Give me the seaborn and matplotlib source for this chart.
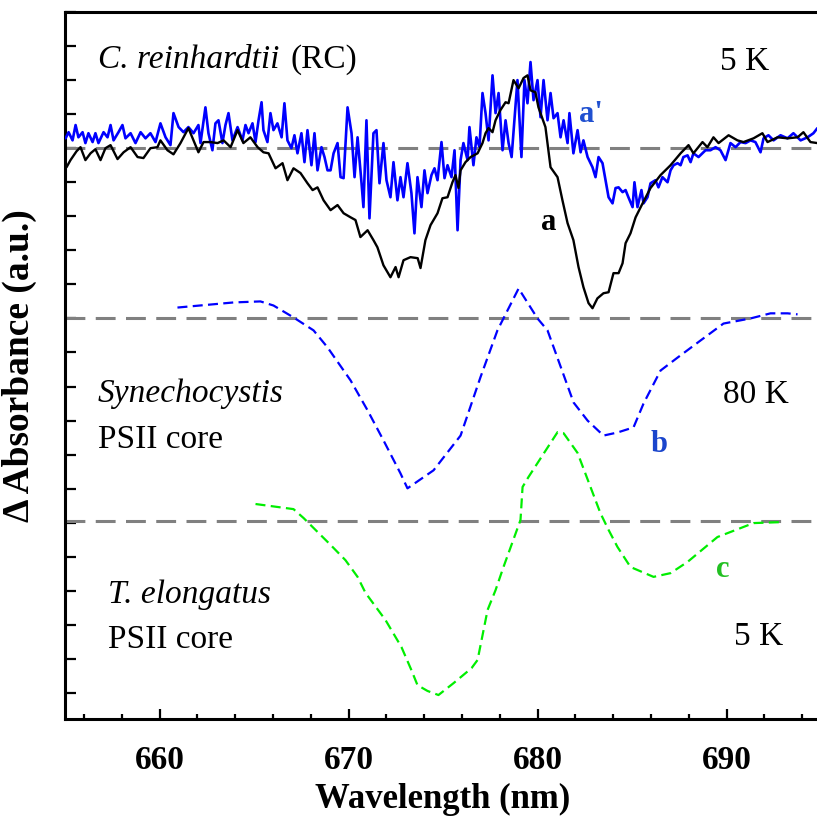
import numpy as np
import pandas as pd
import seaborn as sns
import matplotlib
matplotlib.use("Agg")
import matplotlib.pyplot as plt
from matplotlib.ticker import MultipleLocator

# ---------------- data ----------------
# trace a (black, C. reinhardtii RC, 5 K), dA relative to its baseline
wl_a = [655.08, 655.29, 655.61, 655.82, 656.08, 656.35, 656.61, 656.88, 657.14, 657.41,
        657.78, 658.10, 658.47, 658.84, 659.15, 659.52, 659.89, 660.05, 660.42, 660.74,
        661.11, 661.53, 661.80, 662.06, 662.33, 662.70, 663.07, 663.39, 663.76, 664.13,
        664.44, 664.81, 665.19, 665.50, 665.77, 666.14, 666.51, 666.77, 667.09, 667.46,
        667.83, 668.10, 668.36, 668.68, 669.05, 669.42, 669.74, 670.11, 670.37, 670.63,
        671.01, 671.32, 671.53, 671.85, 672.22, 672.49, 672.65, 672.91, 673.28, 673.66,
        673.81, 674.07, 674.34, 674.71, 674.97, 675.24, 675.50, 675.66, 675.82, 675.93,
        676.19, 676.46, 676.83, 677.09, 677.25, 677.41, 677.62, 677.78, 678.04, 678.31,
        678.47, 678.73, 679.00, 679.26, 679.47, 679.63, 679.89, 680.05, 680.42, 680.69,
        681.06, 681.32, 681.59, 681.90, 682.17, 682.43, 682.70, 682.91, 683.17, 683.49,
        683.76, 684.02, 684.29, 684.50, 684.66, 684.92, 685.19, 685.56, 685.98, 686.51,
        687.04, 687.57, 687.99, 688.25, 688.73, 688.99, 689.31, 689.58, 690.11, 690.58,
        690.90, 691.43, 691.90, 692.17, 692.70, 693.23, 693.76, 694.07, 694.44, 694.81]
dA_a = [-0.56, -0.35, -0.09, 0.03, -0.35, -0.15, -0.03, -0.35, 0.00, 0.09,
        -0.32, -0.12, 0.03, -0.26, -0.29, 0.00, 0.03, 0.23, -0.06, -0.18,
        0.15, 0.59, 0.23, -0.12, 0.18, 0.18, 0.15, 0.23, 0.03, 0.53,
        0.15, 0.32, 0.03, -0.12, -0.15, -0.59, -0.44, -0.94, -0.59, -0.73,
        -1.03, -1.23, -1.15, -1.53, -1.82, -1.67, -1.91, -2.03, -2.11, -2.61,
        -2.41, -2.70, -2.91, -3.44, -3.79, -3.49, -3.79, -3.29, -3.20, -3.23,
        -3.52, -2.70, -2.26, -1.91, -1.47, -1.44, -1.00, -0.79, -1.17, -0.65,
        -0.41, -0.26, -0.15, 0.15, 0.44, 0.59, 0.47, 0.82, 1.12, 1.35,
        1.32, 2.00, 1.76, 2.06, 2.14, 1.70, 1.64, 1.20, 0.62, -0.56,
        -0.85, -1.53, -2.20, -2.70, -3.49, -4.08, -4.55, -4.70, -4.41, -4.26,
        -4.23, -3.67, -3.67, -3.38, -2.79, -2.50, -2.03, -1.62, -1.17, -0.79,
        -0.50, -0.15, 0.09, -0.15, 0.18, 0.03, 0.32, 0.15, 0.38, 0.23,
        0.18, 0.29, 0.44, 0.18, 0.32, 0.29, 0.32, 0.47, 0.18, 0.15]

# trace a' (blue, noisy)
wl_ap = [655.03, 655.19, 655.40, 655.56, 655.71, 655.93, 656.08, 656.24, 656.46, 656.61,
         656.77, 657.04, 657.25, 657.41, 657.57, 657.83, 658.04, 658.20, 658.47, 658.73,
         659.00, 659.26, 659.52, 659.79, 660.05, 660.32, 660.58, 660.74, 661.01, 661.27,
         661.53, 661.80, 662.06, 662.17, 662.43, 662.59, 662.80, 662.96, 663.12, 663.33,
         663.49, 663.65, 663.86, 664.13, 664.39, 664.55, 664.71, 664.92, 665.08, 665.24,
         665.40, 665.50, 665.71, 665.87, 666.03, 666.24, 666.46, 666.61, 666.77, 666.98,
         667.14, 667.30, 667.51, 667.67, 667.83, 668.04, 668.20, 668.36, 668.57, 668.73,
         668.89, 669.05, 669.21, 669.42, 669.58, 669.74, 669.95, 670.16, 670.32, 670.48,
         670.69, 670.79, 670.95, 671.11, 671.32, 671.48, 671.64, 671.85, 672.01, 672.22,
         672.38, 672.59, 672.75, 672.91, 673.12, 673.33, 673.49, 673.65, 673.86, 674.02,
         674.18, 674.39, 674.55, 674.71, 674.92, 675.08, 675.24, 675.45, 675.61, 675.77,
         675.93, 676.08, 676.30, 676.40, 676.61, 676.77, 676.93, 677.09, 677.25, 677.41,
         677.62, 677.78, 677.94, 678.15, 678.31, 678.47, 678.63, 678.78, 678.94, 679.15,
         679.31, 679.47, 679.63, 679.79, 680.00, 680.16, 680.32, 680.53, 680.69, 680.85,
         681.06, 681.22, 681.38, 681.59, 681.69, 681.90, 682.12, 682.28, 682.43, 682.65,
         682.91, 683.07, 683.23, 683.44, 683.60, 683.76, 683.97, 684.13, 684.29, 684.50,
         684.66, 684.81, 685.03, 685.13, 685.29, 685.50, 685.61, 685.82, 685.98, 686.24,
         686.40, 686.61, 686.88, 687.04, 687.20, 687.41, 687.57, 687.72, 687.94, 688.10,
         688.25, 688.52, 688.89, 689.15, 689.42, 689.68, 689.95, 690.21, 690.48, 690.74,
         691.01, 691.27, 691.53, 691.80, 691.96, 692.22, 692.49, 692.86, 693.23, 693.54,
         693.92, 694.29, 694.60, 694.81]
dA_ap = [0.29, 0.47, 0.23, 0.68, 0.32, 0.47, 0.15, 0.44, 0.18, 0.44,
         0.15, 0.47, 0.32, 0.68, 0.23, 0.47, 0.68, 0.29, 0.44, 0.15,
         0.47, 0.29, 0.44, 0.18, 0.73, 0.32, 0.09, 1.03, 0.62, 0.47,
         0.62, 0.44, 0.68, 0.15, 1.20, 0.44, -0.06, 0.73, 0.82, 0.15,
         0.68, 1.03, 0.23, 0.62, 0.23, 0.68, 0.44, 0.73, 0.18, 0.82,
         1.35, 0.53, 0.18, 1.03, 0.53, 0.73, 0.32, 1.32, 0.23, 0.00,
         0.38, -0.15, 0.44, -0.41, 0.53, -0.50, 0.44, -0.65, 0.03, -0.26,
         -0.65, -0.65, -0.15, 0.15, -0.85, -0.88, 1.20, 0.44, -0.85, 0.32,
         -1.03, -1.73, 0.82, -2.06, 0.44, 0.53, -1.03, 0.15, -0.94, -1.44,
         -0.41, -1.53, -0.85, -1.44, -0.44, -1.32, -2.50, -0.85, -1.73, -0.65,
         -1.32, -0.79, -0.59, -0.94, 0.18, -0.88, -0.50, -0.85, -0.06, -2.41,
         -0.35, 0.15, -0.35, 0.62, -0.50, 0.32, 0.03, 1.62, 1.03, 0.23,
         2.14, 1.03, 1.62, -0.06, 0.82, 0.15, -0.26, 0.82, 2.00, -0.26,
         2.00, 1.32, 2.53, 1.41, 2.00, 0.91, 2.00, 0.82, 1.62, 0.88,
         1.03, 0.32, 0.82, 0.15, 1.03, -0.15, 0.53, -0.12, 0.23, -0.26,
         -0.56, -0.85, -0.26, -0.44, -0.94, -1.44, -1.62, -1.17, -1.15, -1.29,
         -1.23, -1.44, -1.73, -1.00, -1.73, -1.23, -1.62, -1.44, -1.03, -0.94,
         -1.15, -0.85, -1.00, -0.65, -0.50, -0.44, -0.50, -0.26, -0.21, -0.41,
         -0.15, -0.26, -0.06, -0.06, 0.03, -0.06, -0.35, 0.15, 0.03, 0.18,
         0.15, 0.23, 0.18, -0.12, 0.29, 0.38, 0.23, 0.38, 0.29, 0.44,
         0.23, 0.32, 0.44, 0.59]

# trace b (blue dashed, Synechocystis PSII core, 80 K)
wl_b = [660.95, 663.92, 665.34, 666.03, 667.09, 668.15, 668.89, 670.11, 671.01, 671.85,
        672.75, 673.12, 674.50, 675.93, 676.98, 677.88, 679.00, 680.00, 680.53, 681.91,
        682.65, 683.49, 684.23, 685.08, 685.61, 686.51, 687.41, 688.62, 689.84, 691.27,
        692.33, 693.23, 693.76]
dA_b = [0.32, 0.47, 0.50, 0.38, 0.03, -0.35, -0.85, -1.82, -2.70, -3.58,
        -4.55, -4.99, -4.46, -3.44, -1.73, -0.35, 0.88, 0.00, -0.35, -2.47,
        -3.00, -3.44, -3.35, -3.20, -2.50, -1.53, -1.15, -0.65, -0.15, 0.00,
        0.15, 0.15, 0.12]

# trace c (green dashed, T. elongatus PSII core, 5 K)
wl_c = [665.08, 667.09, 667.62, 669.05, 669.84, 670.48, 670.90, 671.96, 672.80, 673.33,
        673.65, 674.18, 674.76, 675.56, 676.51, 676.83, 677.36, 677.78, 678.20, 679.10,
        679.21, 679.52, 681.06, 681.38, 682.12, 683.33, 683.76, 684.23, 684.92, 686.14,
        687.04, 687.94, 689.52, 691.43, 692.96]
dA_c = [0.50, 0.35, 0.09, -0.70, -1.15, -1.64, -2.11, -2.91, -3.70, -4.38,
        -4.82, -4.99, -5.11, -4.76, -4.32, -4.08, -2.61, -2.03, -1.35, 0.03,
        1.00, 1.29, 2.61, 2.58, 2.00, 0.23, -0.26, -0.76, -1.35, -1.64,
        -1.53, -1.20, -0.47, -0.06, -0.03]

# vertical offsets (baselines) of the stacked traces
offset_a = 16.0
offset_b = 11.0
offset_c = 5.05

x_ticks = [660, 670, 680, 690]

# ---------------- figure ----------------
sns.set_style("ticks")
plt.rcParams["font.family"] = ["Liberation Serif", "DejaVu Serif"]
for key in ("text.color", "axes.labelcolor", "xtick.color", "ytick.color",
            "axes.edgecolor"):
    plt.rcParams[key] = "black"

fig = plt.figure(figsize=(8.17, 8.16), dpi=100)
ax = fig.add_axes([65 / 817, 97 / 816, 756 / 817, 707 / 816])

df_a = pd.DataFrame({"wl": wl_a, "y": np.array(dA_a) + offset_a})
df_ap = pd.DataFrame({"wl": wl_ap, "y": np.array(dA_ap) + offset_a})
df_b = pd.DataFrame({"wl": wl_b, "y": np.array(dA_b) + offset_b})
df_c = pd.DataFrame({"wl": wl_c, "y": np.array(dA_c) + offset_c})

gray = "#808080"
for off in (offset_a, offset_b, offset_c):
    ax.axhline(off, color=gray, lw=2.2, dashes=(6.5, 3.4), zorder=1)

sns.lineplot(data=df_ap, x="wl", y="y", ax=ax, color="#0000ff", lw=1.9,
             estimator=None, sort=False, zorder=3)
sns.lineplot(data=df_a, x="wl", y="y", ax=ax, color="black", lw=1.7,
             estimator=None, sort=False, zorder=4)
sns.lineplot(data=df_b, x="wl", y="y", ax=ax, color="#0000ff", lw=1.6,
             estimator=None, sort=False, zorder=3)
sns.lineplot(data=df_c, x="wl", y="y", ax=ax, color="#00ee00", lw=1.6,
             estimator=None, sort=False, zorder=3)
ax.lines[-2].set_dashes((4.5, 2.4))
ax.lines[-1].set_dashes((4.5, 2.4))

ax.set_xlim(655, 695)
ax.set_ylim(-0.764, 20.0)

ax.xaxis.set_minor_locator(MultipleLocator(2))
ax.yaxis.set_major_locator(MultipleLocator(1))
ax.set_xticks(x_ticks)
ax.tick_params(axis="x", which="major", direction="in", length=7.5, width=1.6,
               labelsize=24, pad=19, colors="black")
ax.tick_params(axis="x", which="minor", direction="in", length=3.8, width=1.6,
               colors="black")
ax.tick_params(axis="y", which="major", direction="in", length=8, width=1.6,
               labelleft=False, colors="black")
for lab in ax.get_xticklabels():
    lab.set_fontweight("bold")

for side in ("left", "bottom", "top"):
    ax.spines[side].set_linewidth(2.2)
    ax.spines[side].set_color("black")
ax.spines["right"].set_visible(False)

ax.set_xlabel("Wavelength (nm)", fontsize=25, fontweight="bold", labelpad=5,
              color="black")
ax.set_ylabel("\u0394 Absorbance (a.u.)", fontsize=27, fontweight="bold",
              labelpad=20, color="black")

fs = 24
ax.text(656.72, 18.36, "C. reinhardtii", fontsize=fs, style="italic", va="baseline")
ax.text(666.95, 18.36, "(RC)", fontsize=fs, va="baseline")
ax.text(689.68, 18.30, "5 K", fontsize=fs, va="baseline")
ax.text(682.17, 16.77, "a'", fontsize=22, fontweight="bold", color="#2050d0", va="baseline")
ax.text(680.16, 13.60, "a", fontsize=22, fontweight="bold", color="black", va="baseline")

ax.text(656.72, 8.55, "Synechocystis", fontsize=fs, style="italic", va="baseline")
ax.text(656.72, 7.20, "PSII core", fontsize=fs, va="baseline")
ax.text(689.84, 8.52, "80 K", fontsize=fs, va="baseline")
ax.text(685.98, 7.08, "b", fontsize=22, fontweight="bold", color="#1a45cc", va="baseline")

ax.text(689.42, 3.41, "c", fontsize=22, fontweight="bold", color="#22c022", va="baseline")
ax.text(657.25, 2.64, "T. elongatus", fontsize=fs, style="italic", va="baseline")
ax.text(657.25, 1.32, "PSII core", fontsize=fs, va="baseline")
ax.text(690.42, 1.41, "5 K", fontsize=fs, va="baseline")

fig.savefig("out.png", dpi=100)
